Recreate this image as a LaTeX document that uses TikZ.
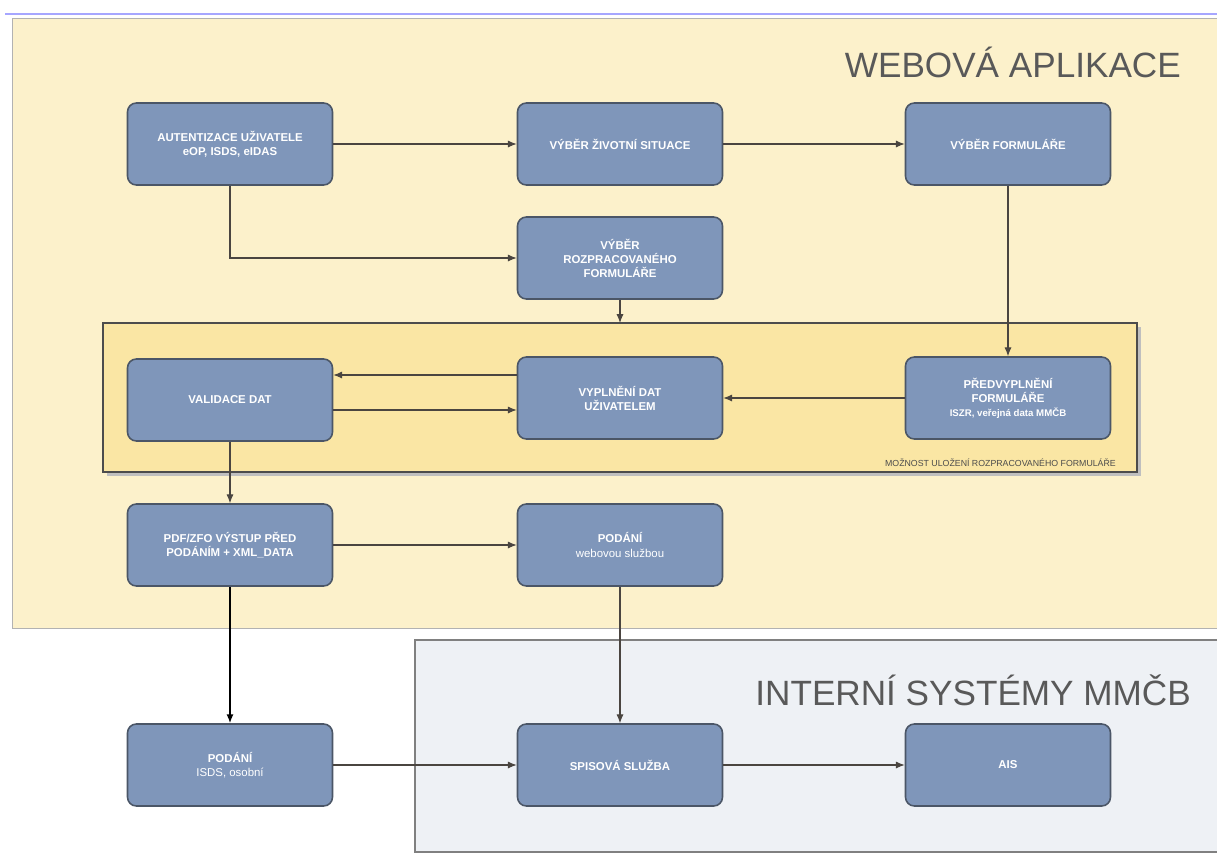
\documentclass[tikz,border=0pt]{standalone}
\usepackage{fontspec}
\setmainfont{Liberation Sans}
\usetikzlibrary{arrows.meta}
\definecolor{webfill}{HTML}{FCF1CB}
\definecolor{savefill}{HTML}{FAE6A4}
\definecolor{intfill}{HTML}{EEF1F5}
\definecolor{boxfill}{HTML}{7F96BA}
\definecolor{boxline}{HTML}{4B5667}
\definecolor{arrline}{HTML}{4A4540}
\begin{document}
\begin{tikzpicture}[x=.02cm,y=-.02cm,
  krok/.style={draw=boxline,line width=.9pt,fill=boxfill,rounded corners=5pt,
    minimum width=4.1cm,minimum height=1.64cm,align=center,text=white,
    font=\fontsize{6.5}{8}\selectfont\bfseries},
  tok/.style={draw=arrline,line width=.6pt,-{Latex[length=5pt,width=4pt]}},
  nadpis/.style={text=black!65,font=\fontsize{20}{22}\selectfont}]
\useasboundingbox (0,0) rectangle (1217,859);
\draw[blue!35,line width=.8pt] (5,14) -- (1217,14);
\draw[black!30,line width=.5pt,fill=webfill] (12,18) rectangle (1217,628);
\fill[black!25] (107,327) rectangle (1141,476);
\draw[black!70,line width=.8pt,fill=savefill] (103,323) rectangle (1137,472);
\draw[black!50,line width=.8pt,fill=intfill] (1217,640) -- (415,640) -- (415,852) -- (1217,852);
\node[nadpis,anchor=east] (web) at (1187,62) {WEBOVÁ APLIKACE};
\node[nadpis,anchor=east] (int) at (1197,690) {INTERNÍ SYSTÉMY MMČB};
\node[anchor=east,text=black!70,font=\fontsize{5}{6}\selectfont] (ulozeni) at (1122,463) {MOŽNOST ULOŽENÍ ROZPRACOVANÉHO FORMULÁŘE};
\coordinate (savetop) at (620,323);
\node[krok] (auth) at (230,144) {AUTENTIZACE UŽIVATELE\\eOP, ISDS, eIDAS};
\node[krok] (situace) at (620,144) {VÝBĚR ŽIVOTNÍ SITUACE};
\node[krok] (formular) at (1008,144) {VÝBĚR FORMULÁŘE};
\node[krok] (rozprac) at (620,258) {VÝBĚR\\ROZPRACOVANÉHO\\FORMULÁŘE};
\node[krok] (validace) at (230,400) {VALIDACE DAT};
\node[krok] (vyplneni) at (620,398) {VYPLNĚNÍ DAT\\UŽIVATELEM};
\node[krok] (predvypl) at (1008,398) {PŘEDVYPLNĚNÍ\\FORMULÁŘE\\{\fontsize{5.5}{7}\selectfont ISZR, veřejná data MMČB}};
\node[krok] (vystup) at (230,545) {PDF/ZFO VÝSTUP PŘED\\PODÁNÍM + XML\_DATA};
\node[krok] (sluzba) at (620,545) {PODÁNÍ\\{\mdseries webovou službou}};
\node[krok] (isds) at (230,765) {PODÁNÍ\\{\mdseries ISDS, osobní}};
\node[krok] (spis) at (620,765) {SPISOVÁ SLUŽBA};
\node[krok] (ais) at (1008,765) {AIS};
\draw[tok] (auth) -- (situace);
\draw[tok] (situace) -- (formular);
\draw[tok] (auth.south) |- (rozprac.west);
\draw[tok] (rozprac.south) -- (savetop);
\draw[tok] (formular.south) -- (predvypl.north);
\draw[tok] (predvypl.west) -- (vyplneni.east);
\draw[tok] ([yshift=.46cm]vyplneni.west) -- ([yshift=.46cm]vyplneni.west -| validace.east);
\draw[tok] ([yshift=-.2cm]validace.east) -- ([yshift=-.2cm]validace.east -| vyplneni.west);
\draw[tok] (validace.south) -- (vystup.north);
\draw[tok] (vystup.east) -- (sluzba.west);
\draw[tok,draw=black,line width=.9pt] (vystup.south) -- (isds.north);
\draw[tok] (sluzba.south) -- (spis.north);
\draw[tok] (isds.east) -- (spis.west);
\draw[tok] (spis.east) -- (ais.west);
\end{tikzpicture}
\end{document}
